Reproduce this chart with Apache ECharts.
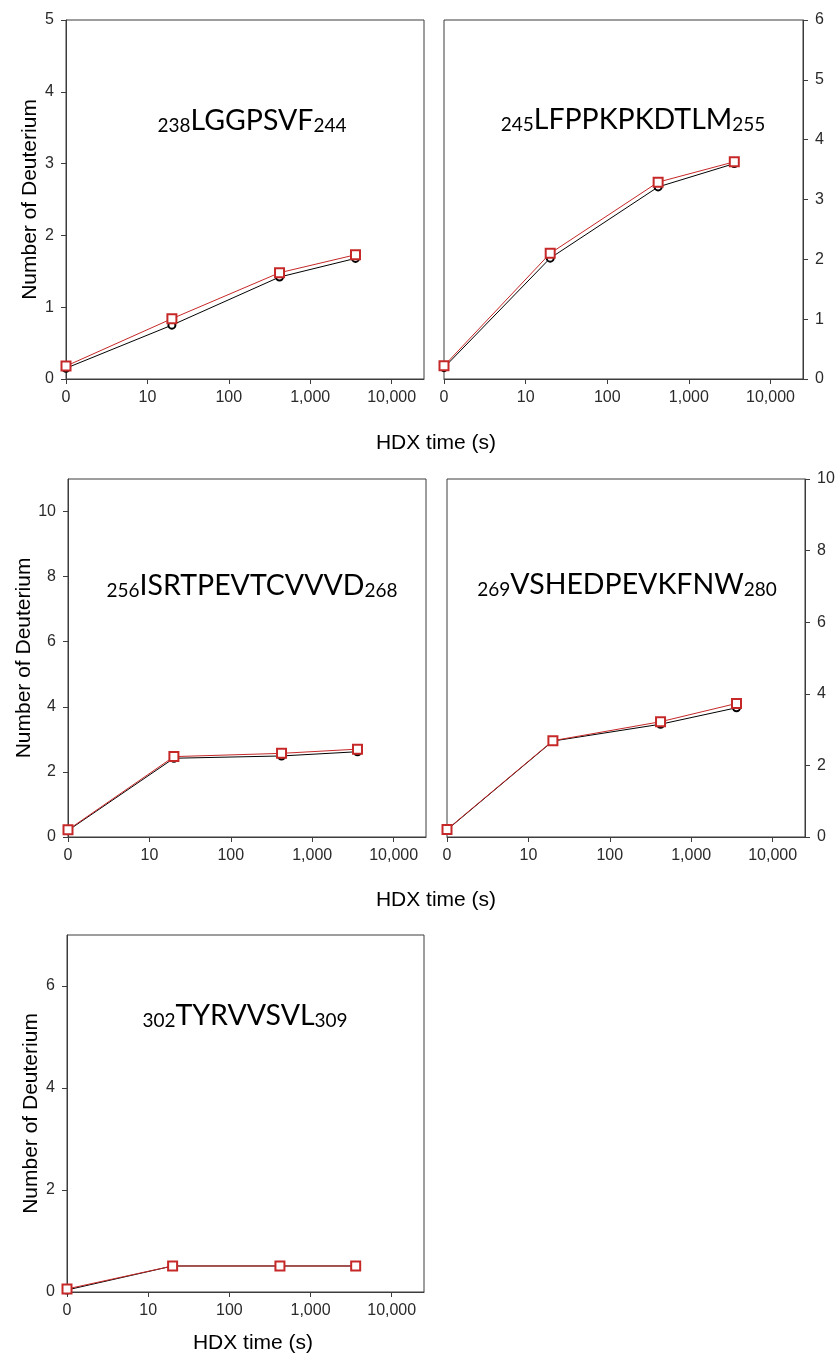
<!DOCTYPE html>
<html>
<head>
<meta charset="utf-8">
<script src="https://cdn.jsdelivr.net/npm/echarts@6/dist/echarts.min.js"></script>
<style>
  html, body { margin: 0; padding: 0; background: #fff; }
  #chart { width: 839px; height: 1358px; }
</style>
</head>
<body>
<div id="chart"></div>
<script>
// HDX exchange times (s); t = 0 sits on the "0" tick at 1 of the log axis
const hdxTimes = [0, 20, 420, 3600]
const xTickValues = [1, 10, 100, 1000, 10000]

// black circles / red squares, number of deuterium per peptide
const p238Black = [0.15, 0.75, 1.42, 1.68]
const p238Red = [0.18, 0.84, 1.48, 1.73]
const p245Black = [0.19, 2.02, 3.21, 3.60]
const p245Red = [0.22, 2.10, 3.29, 3.63]
const p256Black = [0.20, 2.42, 2.49, 2.62]
const p256Red = [0.22, 2.47, 2.57, 2.70]
const p269Black = [0.20, 2.68, 3.15, 3.61]
const p269Red = [0.21, 2.69, 3.22, 3.73]
const p302Black = [0.04, 0.51, 0.51, 0.51]
const p302Red = [0.06, 0.51, 0.51, 0.51]

const yTicks238 = [0, 1, 2, 3, 4, 5]
const yTicks245 = [0, 1, 2, 3, 4, 5, 6]
const yTicks256 = [0, 2, 4, 6, 8, 10]
const yTicks269 = [0, 2, 4, 6, 8, 10]
const yTicks302 = [0, 2, 4, 6]

const pep238 = ['238', 'LGGPSVF', '244']
const pep245 = ['245', 'LFPPKPKDTLM', '255']
const pep256 = ['256', 'ISRTPEVTCVVVD', '268']
const pep269 = ['269', 'VSHEDPEVKFNW', '280']
const pep302 = ['302', 'TYRVVSVL', '309']

const axisColor = '#3c3c3c'
const tickFont = 'Arial, "Liberation Sans", sans-serif'
const pepFont = 'Lato, "Open Sans", sans-serif'

const panels = [
  { grid: { left: 66, top: 20, width: 358, height: 359 }, yMax: 5, yStep: 1, yTicks: yTicks238, side: 'left', nameGap: 24, label: [252, 121], pep: pep238, black: p238Black, red: p238Red },
  { grid: { left: 444, top: 20, width: 359, height: 359 }, yMax: 6, yStep: 1, yTicks: yTicks245, side: 'right', nameGap: 0, label: [633, 120], pep: pep245, black: p245Black, red: p245Red },
  { grid: { left: 68, top: 479, width: 358, height: 358 }, yMax: 11, yStep: 2, yTicks: yTicks256, side: 'left', nameGap: 31, label: [252, 586], pep: pep256, black: p256Black, red: p256Red },
  { grid: { left: 447, top: 479, width: 358, height: 358 }, yMax: 10, yStep: 2, yTicks: yTicks269, side: 'right', nameGap: 0, label: [627, 585], pep: pep269, black: p269Black, red: p269Red },
  { grid: { left: 67, top: 935, width: 357, height: 357 }, yMax: 7, yStep: 2, yTicks: yTicks302, side: 'left', nameGap: 25, label: [245, 1016], pep: pep302, black: p302Black, red: p302Red },
]

const toPoints = (vals) => hdxTimes.map((t, k) => [Math.max(t, 1), vals[k]])

const grids = []
const xAxes = []
const yAxes = []
const series = []
const graphics = []

panels.forEach((p, i) => {
  grids.push(Object.assign({ show: true, borderColor: axisColor, borderWidth: 1, containLabel: false, outerBoundsMode: 'none' }, p.grid))

  xAxes.push({
    gridIndex: i,
    type: 'log',
    logBase: 10,
    min: 1,
    max: 25000,
    axisLine: { show: true, lineStyle: { color: axisColor, width: 1 } },
    axisTick: { show: true, length: 5, customValues: xTickValues, lineStyle: { color: axisColor } },
    axisLabel: {
      customValues: xTickValues,
      formatter: (v) => (Math.round(v) === 1 ? '0' : Math.round(v).toLocaleString('en-US')),
      fontSize: 16,
      color: '#2a2a2a',
      margin: 11,
      fontFamily: tickFont,
    },
    splitLine: { show: false },
  })

  yAxes.push({
    gridIndex: i,
    type: 'value',
    position: p.side,
    min: 0,
    max: p.yMax,
    interval: p.yStep,
    name: p.side === 'left' ? 'Number of Deuterium' : '',
    nameLocation: 'middle',
    nameGap: p.nameGap,
    nameTextStyle: { fontSize: 21, color: '#000', fontFamily: tickFont },
    axisLine: { show: true, lineStyle: { color: axisColor, width: 1 } },
    axisTick: { show: true, length: 5, customValues: p.yTicks, lineStyle: { color: axisColor } },
    axisLabel: { customValues: p.yTicks, fontSize: 16, color: '#2a2a2a', margin: 12, fontFamily: tickFont },
    splitLine: { show: false },
  })

  series.push({
    type: 'line',
    xAxisIndex: i,
    yAxisIndex: i,
    data: toPoints(p.black),
    symbol: 'emptyCircle',
    symbolSize: 7,
    lineStyle: { color: '#000', width: 1 },
    itemStyle: { color: '#000', borderWidth: 1 },
    z: 2,
  })
  series.push({
    type: 'line',
    xAxisIndex: i,
    yAxisIndex: i,
    data: toPoints(p.red),
    symbol: 'emptyRect',
    symbolSize: 9,
    lineStyle: { color: '#c62828', width: 1 },
    itemStyle: { color: '#c62828', borderWidth: 1 },
    z: 3,
  })

  graphics.push({
    type: 'text',
    x: p.label[0],
    y: p.label[1],
    style: {
      text: '{n|' + p.pep[0] + '}{s|' + p.pep[1] + '}{n|' + p.pep[2] + '}',
      align: 'center',
      verticalAlign: 'middle',
      rich: {
        n: { fontSize: 19, fontFamily: pepFont, fill: '#000', verticalAlign: 'bottom' },
        s: { fontSize: 28.5, fontFamily: pepFont, fill: '#000', verticalAlign: 'bottom' },
      },
    },
  })
})

const xNames = [[436, 443], [436, 900], [253, 1343]]
xNames.forEach((pos) => {
  graphics.push({
    type: 'text',
    x: pos[0],
    y: pos[1],
    style: { text: 'HDX time (s)', fontSize: 21, fontFamily: tickFont, fill: '#000', align: 'center', verticalAlign: 'middle' },
  })
})

const chart = echarts.init(document.getElementById('chart'))
chart.setOption({
  animation: false,
  backgroundColor: '#fff',
  grid: grids,
  xAxis: xAxes,
  yAxis: yAxes,
  series: series,
  graphic: graphics,
})
</script>
</body>
</html>
